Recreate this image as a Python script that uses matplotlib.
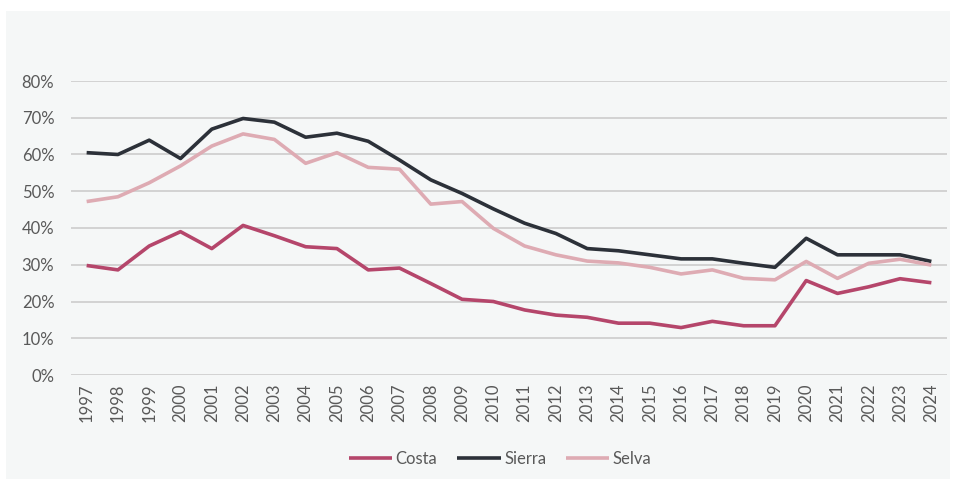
import matplotlib

matplotlib.use("Agg")
import matplotlib.pyplot as plt  # noqa: E402
from matplotlib.patches import Rectangle  # noqa: E402
from matplotlib.ticker import PercentFormatter  # noqa: E402

years = list(range(1997, 2025))
costa = [29.8, 28.6, 35.1, 39.0, 34.4, 40.7, 37.9, 34.9, 34.4, 28.6, 29.1, 24.9, 20.6, 20.0,
         17.7, 16.3, 15.7, 14.1, 14.1, 12.9, 14.6, 13.4, 13.4, 25.7, 22.2, 24.0, 26.2, 25.1]
sierra = [60.5, 60.0, 63.9, 58.9, 66.9, 69.8, 68.8, 64.7, 65.8, 63.6, 58.5, 53.1, 49.4, 45.2,
          41.3, 38.5, 34.4, 33.8, 32.7, 31.6, 31.6, 30.4, 29.3, 37.2, 32.7, 32.7, 32.7, 30.9]
selva = [47.2, 48.5, 52.3, 56.9, 62.3, 65.6, 64.1, 57.6, 60.5, 56.5, 56.0, 46.5, 47.2, 39.9,
         35.1, 32.7, 31.0, 30.5, 29.3, 27.5, 28.6, 26.3, 25.9, 30.9, 26.3, 30.4, 31.5, 29.9]

W, H = 957, 479
fig = plt.figure(figsize=(W / 100, H / 100), dpi=100)
fig.patches.append(Rectangle((6 / W, 0), (950 - 6) / W, 1 - 11 / H, transform=fig.transFigure,
                             facecolor="#f5f7f7", edgecolor="none", zorder=-5))

ax = fig.add_axes([71 / W, 1 - 375 / H, (947 - 71) / W, (375 - 81) / H])
ax.set_zorder(2)
ax.set_facecolor("none")

x = range(len(years))
ax.plot(x, costa, color="#b5466b", lw=2.6, label="Costa", solid_capstyle="butt")
ax.plot(x, sierra, color="#2c3139", lw=2.6, label="Sierra", solid_capstyle="butt")
ax.plot(x, selva, color="#deabb3", lw=2.6, label="Selva", solid_capstyle="butt")

ax.set_xlim(-0.5, len(years) - 0.5)
ax.set_ylim(0, 80)
ax.set_yticks(range(0, 81, 10))
ax.yaxis.set_major_formatter(PercentFormatter(decimals=0))
ax.set_xticks(list(x))
ax.set_xticklabels([str(y) for y in years], rotation=90)
ax.grid(axis="y", color="#d0d0d0", lw=1.3)
ax.set_axisbelow(True)
for s in ax.spines.values():
    s.set_visible(False)
ax.tick_params(length=0, labelsize=12, labelcolor="#595959")
ax.tick_params(axis="y", pad=12)
ax.tick_params(axis="x", pad=6)
for lab in ax.get_xticklabels() + ax.get_yticklabels():
    lab.set_family("Lato")

leg = ax.legend(loc="center", bbox_to_anchor=(0.49, -0.285), ncol=3, frameon=False,
                handlelength=2.6, handletextpad=0.2, columnspacing=1.2,
                prop={"family": "Lato", "size": 12})
for t in leg.get_texts():
    t.set_color("#595959")

fig.savefig("out.png", dpi=100)
